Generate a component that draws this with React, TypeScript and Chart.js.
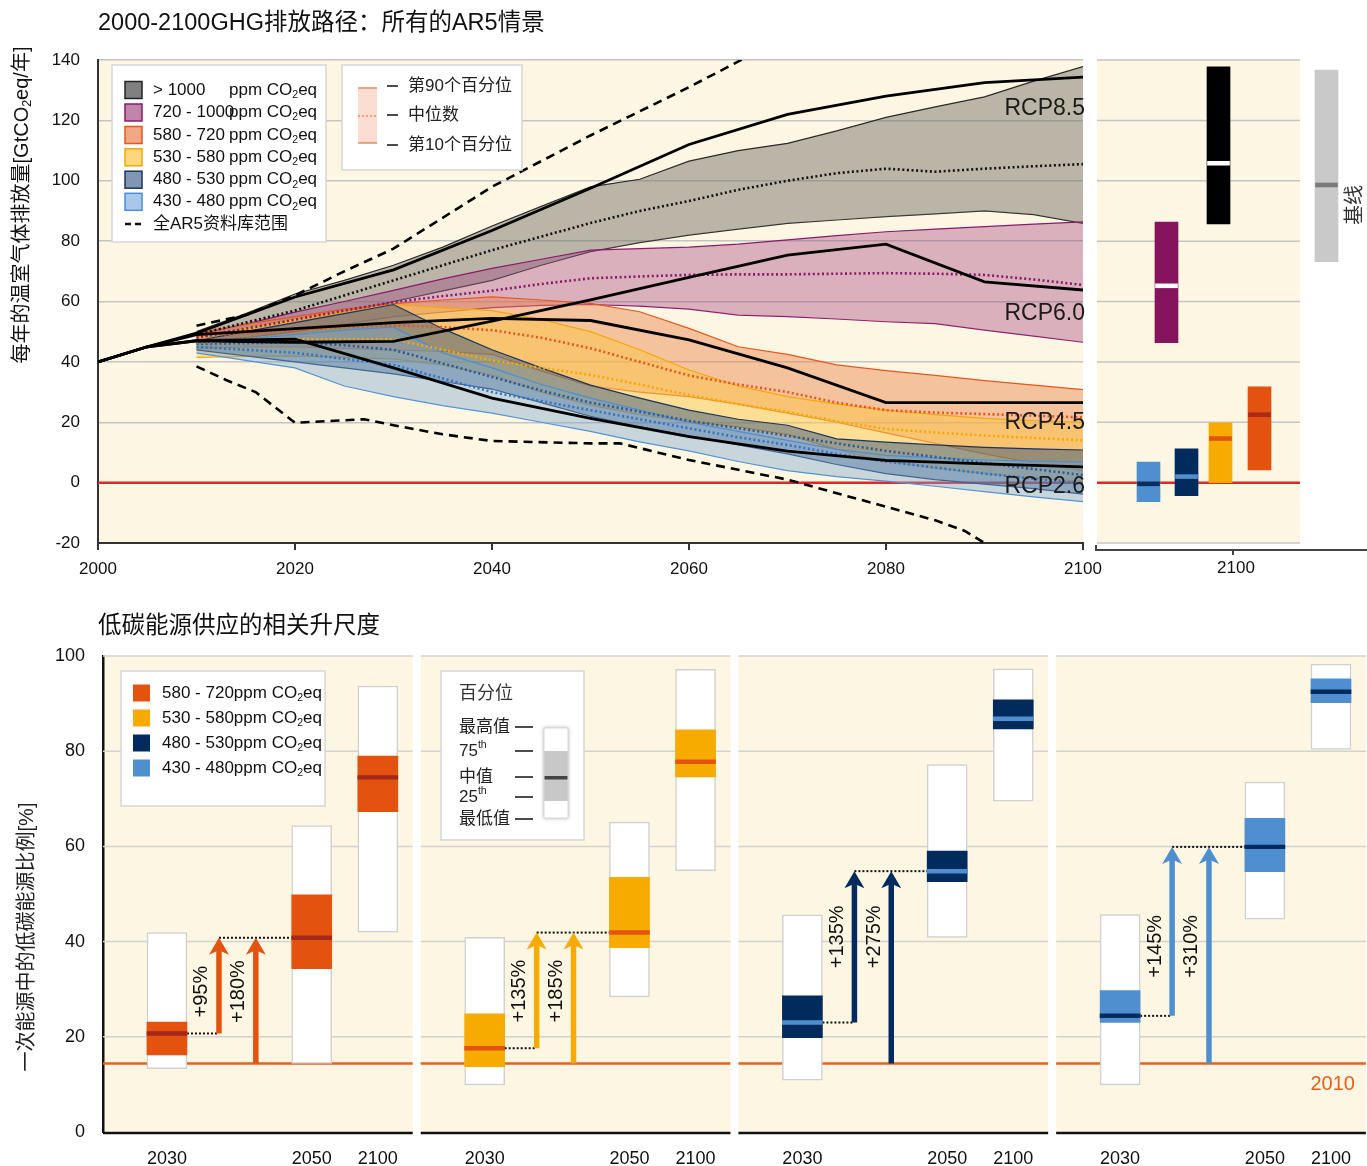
import React, { useEffect, useRef } from 'react';
import { Chart, registerables } from 'chart.js';
Chart.register(...registerables);

const FONT = '"Liberation Sans", Arial, "Noto Sans CJK SC", sans-serif';
const CREAM = '#fdf6e3';
Chart.defaults.font.family = FONT;

// ---------------- top chart data ----------------
const TOP_TITLE = '2000-2100GHG排放路径：所有的AR5情景';
const RCP_YEARS = [2000, 2005, 2010, 2020, 2030, 2040, 2050, 2060, 2070, 2080, 2090, 2100];
const RCP85 = [40, 45, 49.5, 61.5, 70.5, 83.5, 97.5, 112, 122, 128, 132.5, 134.3];
const RCP60 = [40, 45, 47, 46.5, 46.8, 53.5, 60.5, 68, 75.4, 79, 66.5, 63.8];
const RCP45 = [40, 45, 49, 51, 53, 54.4, 53.7, 47.3, 38, 26.5, 26.5, 26.5];
const RCP26 = [40, 45, 47, 47.5, 38, 28, 21.3, 15.2, 10.4, 7.4, 6.2, 5.2];
const RCP_NAMES = ['RCP8.5', 'RCP6.0', 'RCP4.5', 'RCP2.6'];
const RCP_LABEL_Y = [124, 56, 19.8, -1.4];

const RANGE_HI_YEARS = [2010, 2015, 2020, 2025, 2030, 2040, 2050, 2060, 2070];
const RANGE_HI = [52, 55.5, 62, 70, 77.5, 98, 115, 131, 148];
const RANGE_LO_YEARS = [2010, 2013, 2016, 2020, 2024, 2027, 2030, 2035, 2040, 2050, 2053, 2060, 2070, 2080, 2085, 2088, 2091];
const RANGE_LO = [38.5, 34, 30, 19.8, 20.5, 21, 19, 16, 13.8, 13, 13, 7.5, 1, -8, -12.5, -16, -22];

const BAND_YEARS = [2010, 2015, 2020, 2025, 2030, 2035, 2040, 2045, 2050, 2055, 2060, 2065, 2070, 2075, 2080, 2085, 2090, 2095, 2100];
const GRAY_P90 = [50, 56, 62.5, 67, 72, 78, 85, 91.5, 98, 100.5, 106.5, 110, 112.4, 116.5, 121, 124.5, 127.8, 133, 137.8];
const GRAY_P50 = [49, 53, 57, 62, 67, 72, 77, 81.5, 86, 90, 93.3, 97, 100, 102.5, 104, 103, 104, 104.8, 105.5];
const GRAY_P10 = [47.5, 50, 53, 56.5, 60, 63.5, 67, 72, 76.5, 79.5, 82, 84, 85.9, 87, 88.1, 89, 90, 88.8, 85.9];
const PURPLE_P90 = [49, 52.5, 56.5, 60, 63.7, 67.5, 71, 74, 77, 77.5, 78, 79, 80.4, 81.8, 83.1, 84, 84.8, 85.6, 86.4];
const PURPLE_P50 = [48, 51, 54, 57, 59.8, 61.8, 63.6, 65.8, 67.7, 68.3, 68.8, 69, 69, 69.2, 69.4, 69.2, 68.8, 67.3, 65.5];
const PURPLE_P10 = [46.5, 48, 50, 52.5, 55, 56.5, 58, 58.7, 59, 58.5, 57.5, 55.5, 55, 54.2, 53.3, 52.7, 50.5, 48.5, 46.5];
const ORANGE_P90 = [49.5, 52.5, 55, 57.5, 59.3, 60.5, 61.5, 60.5, 59.4, 56.6, 51.1, 45, 42.5, 39, 37.1, 35.5, 33.8, 32.3, 30.8];
const ORANGE_P50 = [48.5, 49.5, 50.5, 51.5, 52.1, 51.5, 50.5, 48, 44.5, 40, 35.5, 32.5, 30, 26.5, 24, 23.2, 22.7, 22.2, 21.6];
const ORANGE_P10 = [44.5, 45, 45, 44.5, 44, 43.5, 42.5, 37, 32, 30, 28.5, 26, 23, 20, 16.5, 13, 9.5, 6.5, 4];
const YELLOW_P90 = [48, 51, 54, 56.5, 59, 58, 57, 54, 50, 44, 37.3, 32, 28.5, 26, 24, 22.5, 21.3, 20.5, 20];
const YELLOW_P50 = [46.5, 47, 47.5, 47.5, 47.5, 44, 40.5, 38, 35.7, 32.5, 29, 26, 23.4, 20.3, 17.8, 16.6, 15.6, 14.8, 14];
const YELLOW_P10 = [41.5, 41.8, 42, 41.5, 41, 39, 35.7, 30, 25.7, 22.5, 20.2, 18.5, 16, 11, 7, 4.8, 3, 1.5, 0.5];
const NAVY_P90 = [47, 50, 53, 56, 59, 51, 44, 38, 32.3, 28, 24, 21, 19, 14.5, 13.4, 12.5, 11.7, 11.2, 10.8];
const NAVY_P50 = [46, 46.2, 46.5, 45.5, 44, 39.5, 35, 30.5, 26.5, 23.5, 20.5, 18, 15.5, 13, 10.5, 8.5, 6.5, 4.5, 2.5];
const NAVY_P10 = [44, 42, 40, 38, 36, 33.5, 31, 26.5, 22, 18.5, 15.5, 12.5, 9.5, 6, 3, 1, -0.5, -2, -3.8];
const BLUE_P90 = [46, 47.5, 49, 50.5, 51.5, 43, 38, 32.5, 28, 24, 20, 17, 14, 11, 9, 8.2, 7.5, 7.1, 6.8];
const BLUE_P50 = [45, 44, 43, 41, 39, 34.5, 30, 27, 24, 21, 18, 15, 12.5, 9.5, 7, 5, 3, 1.3, -0.4];
const BLUE_P10 = [43, 40.5, 38, 32, 28.5, 25.5, 23, 20, 17, 13.5, 10.5, 7, 4, 2, 0.5, -1.2, -3, -4.7, -6.3];

const CAT_RANGES = ['> 1000', '720 - 1000', '580 - 720', '530 - 580', '480 - 530', '430 - 480'];
const RANGE_LEGEND = '全AR5资料库范围';
const PCT_LEGEND = ['第90个百分位', '中位数', '第10个百分位'];

// side panel (2100)
const SIDE_SLOT = [5.15, 8.95, 12.35, 16.25, 6.95, 12.15, 22.95];
const SIDE_P10 = [-6.3, -4.3, 0, 4.2, 46.4, 85.7, 73.2];
const SIDE_P90 = [6.8, 11.2, 19.8, 31.7, 86.3, 137.7, 136.7];
const SIDE_MED = [-0.4, 2.0, 14.6, 22.5, 65.2, 105.8, 98.6];
const SIDE_TICK = '2100';
const BASELINE_LABEL = '基线';

// ---------------- bottom chart data ----------------
const BOTTOM_TITLE = '低碳能源供应的相关升尺度';
const BOTTOM_YTITLE = '一次能源中的低碳能源比例[%]';
const PANEL_RANGES = ['580 - 720', '530 - 580', '480 - 530', '430 - 480'];
const YEAR_LABELS = ['2030', '2050', '2100'];
const BASE_2010 = 14.4;
const MIN_2030 = [13.3, 9.9, 10.9, 9.9];
const Q1_2030 = [16.2, 13.7, 19.8, 23.0];
const MED_2030 = [20.7, 17.6, 23.0, 24.4];
const Q3_2030 = [23.1, 24.8, 28.6, 29.7];
const MAX_2030 = [41.9, 40.9, 45.6, 45.7];
const MIN_2050 = [14.4, 28.4, 40.9, 44.7];
const Q1_2050 = [34.3, 38.7, 52.6, 54.7];
const MED_2050 = [40.8, 41.9, 54.8, 59.9];
const Q3_2050 = [49.8, 53.5, 59.0, 65.9];
const MAX_2050 = [64.4, 65.1, 77.2, 73.5];
const MIN_2100 = [42.0, 54.9, 69.5, 80.4];
const Q1_2100 = [67.3, 74.6, 84.7, 90.2];
const MED_2100 = [74.5, 77.8, 86.8, 92.5];
const Q3_2100 = [79.0, 84.5, 90.8, 95.2];
const MAX_2100 = [93.7, 97.2, 97.3, 98.3];
const ARROW1_TEXT = ['+95%', '+135%', '+135%', '+145%'];
const ARROW2_TEXT = ['+180%', '+185%', '+275%', '+310%'];
const ARROW_TEXT_Y = [29.5, 29.6, 41, 39];
const PCT_BOX_TITLE = '百分位';
const PCT_BOX_ITEMS = ['最高值', '75', '中值', '25', '最低值'];

// ---------------- styles / layout ----------------
const BAND_STYLE = [
  { fill: 'rgba(110,108,100,0.47)', edge: '#2a2a2a', med: '#111111', box: '#808080', boxEdge: '#222' },
  { fill: 'rgba(163,72,130,0.40)', edge: '#8b1a6a', med: '#8b1a6a', box: '#c086aa', boxEdge: '#8b1a6a' },
  { fill: 'rgba(235,131,74,0.45)', edge: '#e8561e', med: '#e8561e', box: '#f2a884', boxEdge: '#e8561e' },
  { fill: 'rgba(251,197,70,0.50)', edge: '#f5a800', med: '#f5a800', box: '#fdd77e', boxEdge: '#f5a800' },
  { fill: 'rgba(40,75,125,0.45)', edge: '#1a3560', med: '#2a5a9a', box: '#8096b2', boxEdge: '#1a3560' },
  { fill: 'rgba(120,167,210,0.40)', edge: '#4a8fd6', med: '#2f74c8', box: '#a9c8e8', boxEdge: '#4a8fd6' },
];
const BAND_DATA = [
  [GRAY_P90, GRAY_P50, GRAY_P10],
  [PURPLE_P90, PURPLE_P50, PURPLE_P10],
  [ORANGE_P90, ORANGE_P50, ORANGE_P10],
  [YELLOW_P90, YELLOW_P50, YELLOW_P10],
  [NAVY_P90, NAVY_P50, NAVY_P10],
  [BLUE_P90, BLUE_P50, BLUE_P10],
];
const SIDE_COLORS = ['#4f8fcf', '#002b5c', '#f7ab00', '#e3520e', '#86135e', '#000000', '#c9c9c9'];
const SIDE_MED_COLORS = ['#0a2d5a', '#4f8fcf', '#e3520e', '#a82a1a', '#ffffff', '#ffffff', '#7a7a7a'];
const SIDE_CREAM_END = 20.3;

const PANEL_COLORS = ['#e3520e', '#f7ab00', '#002b5c', '#4f8fcf'];
const PANEL_MED_COLORS = ['#a3291b', '#e3520e', '#4f8fcf', '#002b5c'];
const PANEL_W = 310 / 318;
const X_MAX = 4 - 8 / 318;
const YEAR_SLOTS = [0.2013, 0.657, 0.865];
const ARROW1_SLOT = 0.365;
const ARROW2_SLOT = 0.481;

type Part = { t: string; sub?: boolean; sup?: boolean };
function partsWidth(ctx: CanvasRenderingContext2D, parts: Part[], size: number) {
  let w = 0;
  for (const p of parts) {
    ctx.font = `${p.sub || p.sup ? size * 0.62 : size}px ${FONT}`;
    w += ctx.measureText(p.t).width;
  }
  return w;
}
function drawParts(ctx: CanvasRenderingContext2D, parts: Part[], x: number, y: number, size: number) {
  let cx = x;
  for (const p of parts) {
    const s = p.sub || p.sup ? size * 0.62 : size;
    ctx.font = `${s}px ${FONT}`;
    const dy = p.sub ? size * 0.3 : p.sup ? -size * 0.32 : 0;
    ctx.fillText(p.t, cx, y + dy);
    cx += ctx.measureText(p.t).width;
  }
}
const pts = (xs: number[], ys: number[]) => xs.map((x, i) => ({ x, y: ys[i] }));

// ---------------- main chart ----------------
function makeMain(canvas: HTMLCanvasElement) {
  const datasets: any[] = [];
  [RCP85, RCP60, RCP45, RCP26].forEach((v, i) =>
    datasets.push({ label: RCP_NAMES[i], data: pts(RCP_YEARS, v), borderColor: '#000', borderWidth: 2.8, order: 0 })
  );
  datasets.push({ label: 'max', data: pts(RANGE_HI_YEARS, RANGE_HI), borderColor: '#000', borderWidth: 2.6, borderDash: [9, 6], order: 0 });
  datasets.push({ label: 'min', data: pts(RANGE_LO_YEARS, RANGE_LO), borderColor: '#000', borderWidth: 2.6, borderDash: [9, 6], order: 0 });
  BAND_DATA.forEach((b, i) => {
    const s = BAND_STYLE[i];
    datasets.push({ label: CAT_RANGES[i] + ' p90', data: pts(BAND_YEARS, b[0]), borderColor: s.edge, borderWidth: 1.2, fill: '+1', backgroundColor: s.fill, order: 30 - i });
    datasets.push({ label: CAT_RANGES[i] + ' p10', data: pts(BAND_YEARS, b[2]), borderColor: s.edge, borderWidth: 1.2, fill: false, order: 30 - i });
  });
  BAND_DATA.forEach((b, i) => {
    datasets.push({ label: CAT_RANGES[i] + ' p50', data: pts(BAND_YEARS, b[1]), borderColor: BAND_STYLE[i].med, borderWidth: 2.6, borderDash: [2, 2.6], order: 5 });
  });
  datasets.push({ label: 'zero', data: pts([2000, 2100], [0, 0]), borderColor: '#e3262a', borderWidth: 2.5, order: 60 });

  const deco = {
    id: 'mainDeco',
    beforeDraw(chart: any) {
      const { ctx, chartArea: a } = chart;
      ctx.save();
      ctx.fillStyle = CREAM;
      ctx.fillRect(a.left, a.top, a.right - a.left, a.bottom - a.top);
      ctx.restore();
    },
    afterDraw(chart: any) {
      const ctx: CanvasRenderingContext2D = chart.ctx;
      const xs = chart.scales.x, ys = chart.scales.y;
      ctx.save();
      ctx.textBaseline = 'middle';
      ctx.textAlign = 'left';
      ctx.fillStyle = '#111';
      ctx.font = `23.5px ${FONT}`;
      ctx.fillText(TOP_TITLE, 98, 24);
      // y title
      ctx.save();
      ctx.translate(22, 205);
      ctx.rotate(-Math.PI / 2);
      const yt: Part[] = [{ t: '每年的温室气体排放量[GtCO' }, { t: '2', sub: true }, { t: 'eq/年]' }];
      drawParts(ctx, yt, -partsWidth(ctx, yt, 20) / 2, 0, 20);
      ctx.restore();
      // legend 1
      ctx.fillStyle = '#fff';
      ctx.strokeStyle = '#d6d6d6';
      ctx.lineWidth = 1.5;
      ctx.fillRect(112, 65, 214, 177);
      ctx.strokeRect(112, 65, 214, 177);
      const rowY = [90, 112.5, 135, 157.3, 179.7, 201.8];
      CAT_RANGES.forEach((r, i) => {
        const s = BAND_STYLE[i];
        ctx.fillStyle = s.box;
        ctx.fillRect(125, rowY[i] - 8.5, 17, 17);
        ctx.strokeStyle = s.boxEdge;
        ctx.lineWidth = 1.5;
        ctx.strokeRect(125, rowY[i] - 8.5, 17, 17);
        ctx.fillStyle = '#111';
        ctx.font = `17px ${FONT}`;
        ctx.fillText(r, 153, rowY[i]);
        drawParts(ctx, [{ t: 'ppm CO' }, { t: '2', sub: true }, { t: 'eq' }], 229, rowY[i], 17);
      });
      ctx.strokeStyle = '#111';
      ctx.lineWidth = 2.5;
      ctx.setLineDash([6, 4]);
      ctx.beginPath();
      ctx.moveTo(125, 224);
      ctx.lineTo(145, 224);
      ctx.stroke();
      ctx.setLineDash([]);
      ctx.fillStyle = '#111';
      ctx.font = `17px ${FONT}`;
      ctx.fillText(RANGE_LEGEND, 153, 224);
      // legend 2
      ctx.fillStyle = '#fff';
      ctx.strokeStyle = '#d6d6d6';
      ctx.lineWidth = 1.5;
      ctx.fillRect(342, 65, 180, 105);
      ctx.strokeRect(342, 65, 180, 105);
      ctx.fillStyle = 'rgba(242,150,120,0.32)';
      ctx.fillRect(358, 88, 19, 55);
      ctx.strokeStyle = '#ee8a5c';
      ctx.lineWidth = 1.5;
      ctx.beginPath();
      ctx.moveTo(358, 88); ctx.lineTo(377, 88);
      ctx.moveTo(358, 143); ctx.lineTo(377, 143);
      ctx.stroke();
      ctx.setLineDash([2, 2]);
      ctx.beginPath();
      ctx.moveTo(358, 116); ctx.lineTo(377, 116);
      ctx.stroke();
      ctx.setLineDash([]);
      const l2y = [86, 115, 145];
      ctx.strokeStyle = '#111';
      ctx.lineWidth = 1.5;
      PCT_LEGEND.forEach((t, i) => {
        ctx.beginPath();
        ctx.moveTo(387, l2y[i]); ctx.lineTo(398, l2y[i]);
        ctx.stroke();
        ctx.fillStyle = '#222';
        ctx.font = `17px ${FONT}`;
        ctx.fillText(t, 408, l2y[i]);
      });
      // RCP labels
      ctx.font = `23px ${FONT}`;
      ctx.textAlign = 'right';
      ctx.fillStyle = '#1a1a1a';
      RCP_NAMES.forEach((n, i) => ctx.fillText(n, xs.getPixelForValue(2100) + 2, ys.getPixelForValue(RCP_LABEL_Y[i])));
      ctx.restore();
    },
  };

  return new Chart(canvas, {
    type: 'line',
    data: { datasets },
    options: {
      responsive: false,
      animation: false,
      devicePixelRatio: 1,
      layout: { padding: { left: 0, right: 37, top: 60, bottom: 0 } },
      elements: { point: { radius: 0 }, line: { tension: 0 } },
      plugins: { legend: { display: false }, tooltip: { enabled: false } },
      scales: {
        x: {
          type: 'linear', min: 2000, max: 2100,
          ticks: { stepSize: 20, callback: (v: any) => String(v), font: { size: 17 }, color: '#111', padding: 9, maxRotation: 0 },
          grid: { drawOnChartArea: false, drawTicks: true, tickLength: 7, color: '#333', lineWidth: 2 },
          border: { display: true, color: '#333', width: 2 },
          afterFit: (s: any) => { s.height = 57; },
        },
        y: {
          type: 'linear', min: -20, max: 140,
          ticks: { stepSize: 20, font: { size: 17 }, color: '#111', padding: 18 },
          grid: { color: '#c4c4c4', lineWidth: 1.5, drawTicks: false },
          border: { display: true, color: '#333', width: 2 },
          afterFit: (s: any) => { s.width = 98; },
        },
      },
    } as any,
    plugins: [deco],
  });
}

// ---------------- side chart ----------------
function makeSide(canvas: HTMLCanvasElement) {
  const ranges = SIDE_SLOT.map((x, i) => ({ x, y: [SIDE_P10[i], SIDE_P90[i]] }));
  const meds = SIDE_SLOT.map((x, i) => ({ x, y: [SIDE_MED[i] - 0.65, SIDE_MED[i] + 0.65] }));
  const deco = {
    id: 'sideDeco',
    beforeDraw(chart: any) {
      const { ctx, chartArea: a } = chart;
      const xs = chart.scales.x;
      ctx.save();
      ctx.fillStyle = CREAM;
      const x0 = xs.getPixelForValue(0), x1 = xs.getPixelForValue(SIDE_CREAM_END);
      ctx.fillRect(x0, a.top, x1 - x0, a.bottom - a.top);
      ctx.restore();
    },
    beforeDatasetsDraw(chart: any) {
      const { ctx } = chart;
      const xs = chart.scales.x, ys = chart.scales.y;
      const x0 = xs.getPixelForValue(0), x1 = xs.getPixelForValue(SIDE_CREAM_END);
      ctx.save();
      ctx.strokeStyle = '#c4c4c4';
      ctx.lineWidth = 1.5;
      for (let v = -20; v <= 140; v += 20) {
        const y = ys.getPixelForValue(v);
        ctx.beginPath(); ctx.moveTo(x0, y); ctx.lineTo(x1, y); ctx.stroke();
      }
      ctx.restore();
    },
    afterDraw(chart: any) {
      const ctx: CanvasRenderingContext2D = chart.ctx;
      ctx.save();
      ctx.translate(-1095, 0);
      ctx.strokeStyle = '#444';
      ctx.lineWidth = 2;
      ctx.beginPath();
      ctx.moveTo(1096, 545); ctx.lineTo(1096, 550); ctx.lineTo(1367, 550);
      ctx.moveTo(1233, 550); ctx.lineTo(1233, 555);
      ctx.stroke();
      ctx.fillStyle = '#111';
      ctx.font = `17px ${FONT}`;
      ctx.textAlign = 'center';
      ctx.textBaseline = 'middle';
      ctx.fillText(SIDE_TICK, 1236, 568);
      ctx.save();
      ctx.translate(1355, 205);
      ctx.rotate(-Math.PI / 2);
      ctx.font = `20px ${FONT}`;
      ctx.fillStyle = '#333';
      ctx.fillText(BASELINE_LABEL, 0, 0);
      ctx.restore();
      ctx.restore();
    },
  };
  return new Chart(canvas, {
    type: 'bar',
    data: {
      datasets: [
        { type: 'bar', data: meds, backgroundColor: SIDE_MED_COLORS, barThickness: 22, grouped: false, order: 1 },
        { type: 'bar', data: ranges, backgroundColor: SIDE_COLORS, barThickness: 23, grouped: false, order: 2 },
        { type: 'line', data: [{ x: 0, y: 0 }, { x: SIDE_CREAM_END, y: 0 }], borderColor: '#e3262a', borderWidth: 2.5, pointRadius: 0, order: 3 },
      ],
    } as any,
    options: {
      responsive: false,
      animation: false,
      devicePixelRatio: 1,
      layout: { padding: { left: 2, right: 0, top: 60, bottom: 57 } },
      plugins: { legend: { display: false }, tooltip: { enabled: false } },
      scales: {
        x: { type: 'linear', min: 0, max: 27, display: false, offset: false },
        y: { type: 'linear', min: -20, max: 140, display: false },
      },
    } as any,
    plugins: [deco],
  });
}

// ---------------- bottom chart ----------------
function makeBottom(canvas: HTMLCanvasElement) {
  const STATS = [
    [MIN_2030, Q1_2030, MED_2030, Q3_2030, MAX_2030],
    [MIN_2050, Q1_2050, MED_2050, Q3_2050, MAX_2050],
    [MIN_2100, Q1_2100, MED_2100, Q3_2100, MAX_2100],
  ];
  const boxes: any[] = [], iqr: any[] = [], meds: any[] = [], iqrCol: string[] = [], medCol: string[] = [];
  const tickVals: number[] = [], tickText: string[] = [];
  for (let p = 0; p < 4; p++) {
    STATS.forEach((st, k) => {
      const x = p + YEAR_SLOTS[k];
      boxes.push({ x, y: [st[0][p], st[4][p]] });
      iqr.push({ x, y: [st[1][p], st[3][p]] });
      meds.push({ x, y: [st[2][p] - 0.4, st[2][p] + 0.4] });
      iqrCol.push(PANEL_COLORS[p]);
      medCol.push(PANEL_MED_COLORS[p]);
      tickVals.push(x);
      tickText.push(YEAR_LABELS[k]);
    });
  }
  const datasets: any[] = [
    { type: 'bar', data: meds, backgroundColor: medCol, barThickness: 40, grouped: false, order: 1 },
    { type: 'bar', data: iqr, backgroundColor: iqrCol, barThickness: 40, grouped: false, order: 2 },
    { type: 'bar', data: boxes, backgroundColor: '#ffffff', borderColor: '#d0d0d0', borderWidth: 1.5, borderSkipped: false, barThickness: 40, grouped: false, order: 3 },
  ];
  const HEAD_GAP = 1.5;
  for (let p = 0; p < 4; p++) {
    const line = (data: any[], extra: any) => datasets.push({ type: 'line', data, pointRadius: 0, ...extra });
    line([{ x: p, y: BASE_2010 }, { x: p + PANEL_W, y: BASE_2010 }], { borderColor: '#e8601c', borderWidth: 2.5, order: 6 });
    line([{ x: p + YEAR_SLOTS[0], y: MED_2030[p] }, { x: p + ARROW1_SLOT, y: MED_2030[p] }], { borderColor: '#111', borderWidth: 2, borderDash: [2, 2], order: 5 });
    line([{ x: p + ARROW1_SLOT, y: MED_2050[p] }, { x: p + YEAR_SLOTS[1], y: MED_2050[p] }], { borderColor: '#111', borderWidth: 2, borderDash: [2, 2], order: 5 });
    line([{ x: p + ARROW1_SLOT, y: MED_2030[p] }, { x: p + ARROW1_SLOT, y: MED_2050[p] - HEAD_GAP }], { borderColor: PANEL_COLORS[p], borderWidth: 5.5, order: 0 });
    line([{ x: p + ARROW2_SLOT, y: BASE_2010 }, { x: p + ARROW2_SLOT, y: MED_2050[p] - HEAD_GAP }], { borderColor: PANEL_COLORS[p], borderWidth: 5.5, order: 0 });
  }

  const head = (ctx: CanvasRenderingContext2D, x: number, y: number, c: string) => {
    ctx.beginPath();
    ctx.moveTo(x, y);
    ctx.lineTo(x + 10, y + 17);
    ctx.lineTo(x, y + 12.5);
    ctx.lineTo(x - 10, y + 17);
    ctx.closePath();
    ctx.fillStyle = c;
    ctx.fill();
  };

  const deco = {
    id: 'bottomDeco',
    beforeDraw(chart: any) {
      const { ctx, chartArea: a } = chart;
      const xs = chart.scales.x;
      ctx.save();
      ctx.fillStyle = CREAM;
      for (let p = 0; p < 4; p++) {
        const x0 = xs.getPixelForValue(p), x1 = xs.getPixelForValue(p + PANEL_W);
        ctx.fillRect(x0, a.top, x1 - x0, a.bottom - a.top);
      }
      ctx.restore();
    },
    beforeDatasetsDraw(chart: any) {
      const { ctx } = chart;
      const xs = chart.scales.x, ys = chart.scales.y;
      ctx.save();
      ctx.strokeStyle = '#d2d2d2';
      ctx.lineWidth = 1.5;
      for (let p = 0; p < 4; p++) {
        const x0 = xs.getPixelForValue(p), x1 = xs.getPixelForValue(p + PANEL_W);
        for (let v = 20; v <= 100; v += 20) {
          const y = ys.getPixelForValue(v);
          ctx.beginPath(); ctx.moveTo(x0, y); ctx.lineTo(x1, y); ctx.stroke();
        }
      }
      ctx.restore();
    },
    afterDatasetsDraw(chart: any) {
      const ctx: CanvasRenderingContext2D = chart.ctx;
      const xs = chart.scales.x, ys = chart.scales.y;
      ctx.save();
      for (let p = 0; p < 4; p++) {
        const x1 = xs.getPixelForValue(p + ARROW1_SLOT), x2 = xs.getPixelForValue(p + ARROW2_SLOT);
        const yt = ys.getPixelForValue(MED_2050[p]);
        head(ctx, x1, yt, PANEL_COLORS[p]);
        head(ctx, x2, yt, PANEL_COLORS[p]);
        ctx.fillStyle = '#111';
        ctx.font = `20px ${FONT}`;
        ctx.textAlign = 'center';
        ctx.textBaseline = 'middle';
        const ly = ys.getPixelForValue(ARROW_TEXT_Y[p]);
        [[x1, ARROW1_TEXT[p]], [x2, ARROW2_TEXT[p]]].forEach(([x, t]: any) => {
          ctx.save();
          ctx.translate(x - 17, ly);
          ctx.rotate(-Math.PI / 2);
          ctx.fillText(t, 0, 0);
          ctx.restore();
        });
      }
      // bottom axis segments
      const yb = chart.chartArea.bottom + 1;
      ctx.strokeStyle = '#111';
      ctx.lineWidth = 2.5;
      for (let p = 0; p < 4; p++) {
        ctx.beginPath();
        ctx.moveTo(xs.getPixelForValue(p), yb);
        ctx.lineTo(xs.getPixelForValue(p + PANEL_W), yb);
        ctx.stroke();
      }
      // 2010 label
      ctx.fillStyle = '#e8601c';
      ctx.font = `20px ${FONT}`;
      ctx.textAlign = 'right';
      ctx.textBaseline = 'middle';
      ctx.fillText('2010', xs.getPixelForValue(X_MAX) - 11, ys.getPixelForValue(BASE_2010) + 21);
      ctx.restore();
    },
    afterDraw(chart: any) {
      const ctx: CanvasRenderingContext2D = chart.ctx;
      ctx.save();
      ctx.translate(0, -600);
      ctx.textBaseline = 'middle';
      ctx.textAlign = 'left';
      ctx.fillStyle = '#111';
      ctx.font = `23.5px ${FONT}`;
      ctx.fillText(BOTTOM_TITLE, 98, 627);
      ctx.save();
      ctx.translate(27, 937);
      ctx.rotate(-Math.PI / 2);
      ctx.font = `20px ${FONT}`;
      ctx.textAlign = 'center';
      ctx.fillStyle = '#222';
      ctx.fillText(BOTTOM_YTITLE, 0, 0);
      ctx.restore();
      // legend 1
      ctx.fillStyle = '#fff';
      ctx.strokeStyle = '#d6d6d6';
      ctx.lineWidth = 1.5;
      ctx.fillRect(121, 671, 204, 135);
      ctx.strokeRect(121, 671, 204, 135);
      const ry = [693, 718, 743, 768];
      PANEL_RANGES.forEach((r, i) => {
        ctx.fillStyle = PANEL_COLORS[i];
        ctx.fillRect(133, ry[i] - 8.5, 17, 17);
        ctx.fillStyle = '#111';
        drawParts(ctx, [{ t: r + 'ppm CO' }, { t: '2', sub: true }, { t: 'eq' }], 162, ry[i], 17);
      });
      // percentile legend
      ctx.fillStyle = '#fff';
      ctx.strokeStyle = '#d6d6d6';
      ctx.fillRect(441, 671, 143, 169);
      ctx.strokeRect(441, 671, 143, 169);
      ctx.fillStyle = '#333';
      ctx.font = `18px ${FONT}`;
      ctx.fillText(PCT_BOX_TITLE, 459, 694);
      const py = [727, 751, 777, 797, 819];
      PCT_BOX_ITEMS.forEach((t, i) => {
        ctx.fillStyle = '#222';
        if (i === 1 || i === 3) drawParts(ctx, [{ t }, { t: 'th', sup: true }], 459, py[i], 17);
        else { ctx.font = `17px ${FONT}`; ctx.fillText(t, 459, py[i]); }
        ctx.strokeStyle = '#111';
        ctx.lineWidth = 1.5;
        ctx.beginPath(); ctx.moveTo(515, py[i]); ctx.lineTo(533, py[i]); ctx.stroke();
      });
      ctx.save();
      ctx.shadowColor = 'rgba(0,0,0,0.35)';
      ctx.shadowBlur = 4;
      ctx.fillStyle = '#fff';
      ctx.fillRect(544, 728, 24, 90);
      ctx.restore();
      ctx.fillStyle = '#c8c8c8';
      ctx.fillRect(544, 751, 24, 50);
      ctx.fillStyle = '#444';
      ctx.fillRect(544, 776, 24, 3.5);
      ctx.strokeStyle = '#d8d8d8';
      ctx.lineWidth = 1;
      ctx.strokeRect(544, 728, 24, 90);
      ctx.restore();
    },
  };

  return new Chart(canvas, {
    type: 'bar',
    data: { datasets } as any,
    options: {
      responsive: false,
      animation: false,
      devicePixelRatio: 1,
      layout: { padding: { left: 0, right: 0, top: 56, bottom: 0 } },
      plugins: { legend: { display: false }, tooltip: { enabled: false } },
      scales: {
        x: {
          type: 'linear', min: 0, max: X_MAX, offset: false,
          afterBuildTicks: (s: any) => { s.ticks = tickVals.map((v) => ({ value: v })); },
          ticks: { autoSkip: false, maxRotation: 0, callback: (_v: any, i: number) => tickText[i], font: { size: 18 }, color: '#111', padding: 16 },
          grid: { display: false, drawTicks: false },
          border: { display: false },
          afterFit: (s: any) => { s.height = 34; },
        },
        y: {
          type: 'linear', min: 0, max: 100,
          ticks: { stepSize: 20, font: { size: 18 }, color: '#111', padding: 18 },
          grid: { display: false, drawTicks: false },
          border: { display: true, color: '#111', width: 2.5 },
          afterFit: (s: any) => { s.width = 103; },
        },
      },
    } as any,
    plugins: [deco],
  });
}

export default function App() {
  const mainRef = useRef<HTMLCanvasElement>(null);
  const sideRef = useRef<HTMLCanvasElement>(null);
  const bottomRef = useRef<HTMLCanvasElement>(null);
  useEffect(() => {
    const charts = [makeMain(mainRef.current!), makeSide(sideRef.current!), makeBottom(bottomRef.current!)];
    return () => charts.forEach((c) => c.destroy());
  }, []);
  return (
    <div style={{ position: 'absolute', left: 0, top: 0, width: 1367, height: 1166, background: '#fff', overflow: 'hidden' }}>
      <canvas ref={mainRef} width={1120} height={600} style={{ position: 'absolute', left: 0, top: 0 }} />
      <canvas ref={sideRef} width={272} height={600} style={{ position: 'absolute', left: 1095, top: 0 }} />
      <canvas ref={bottomRef} width={1367} height={566} style={{ position: 'absolute', left: 0, top: 600 }} />
    </div>
  );
}
